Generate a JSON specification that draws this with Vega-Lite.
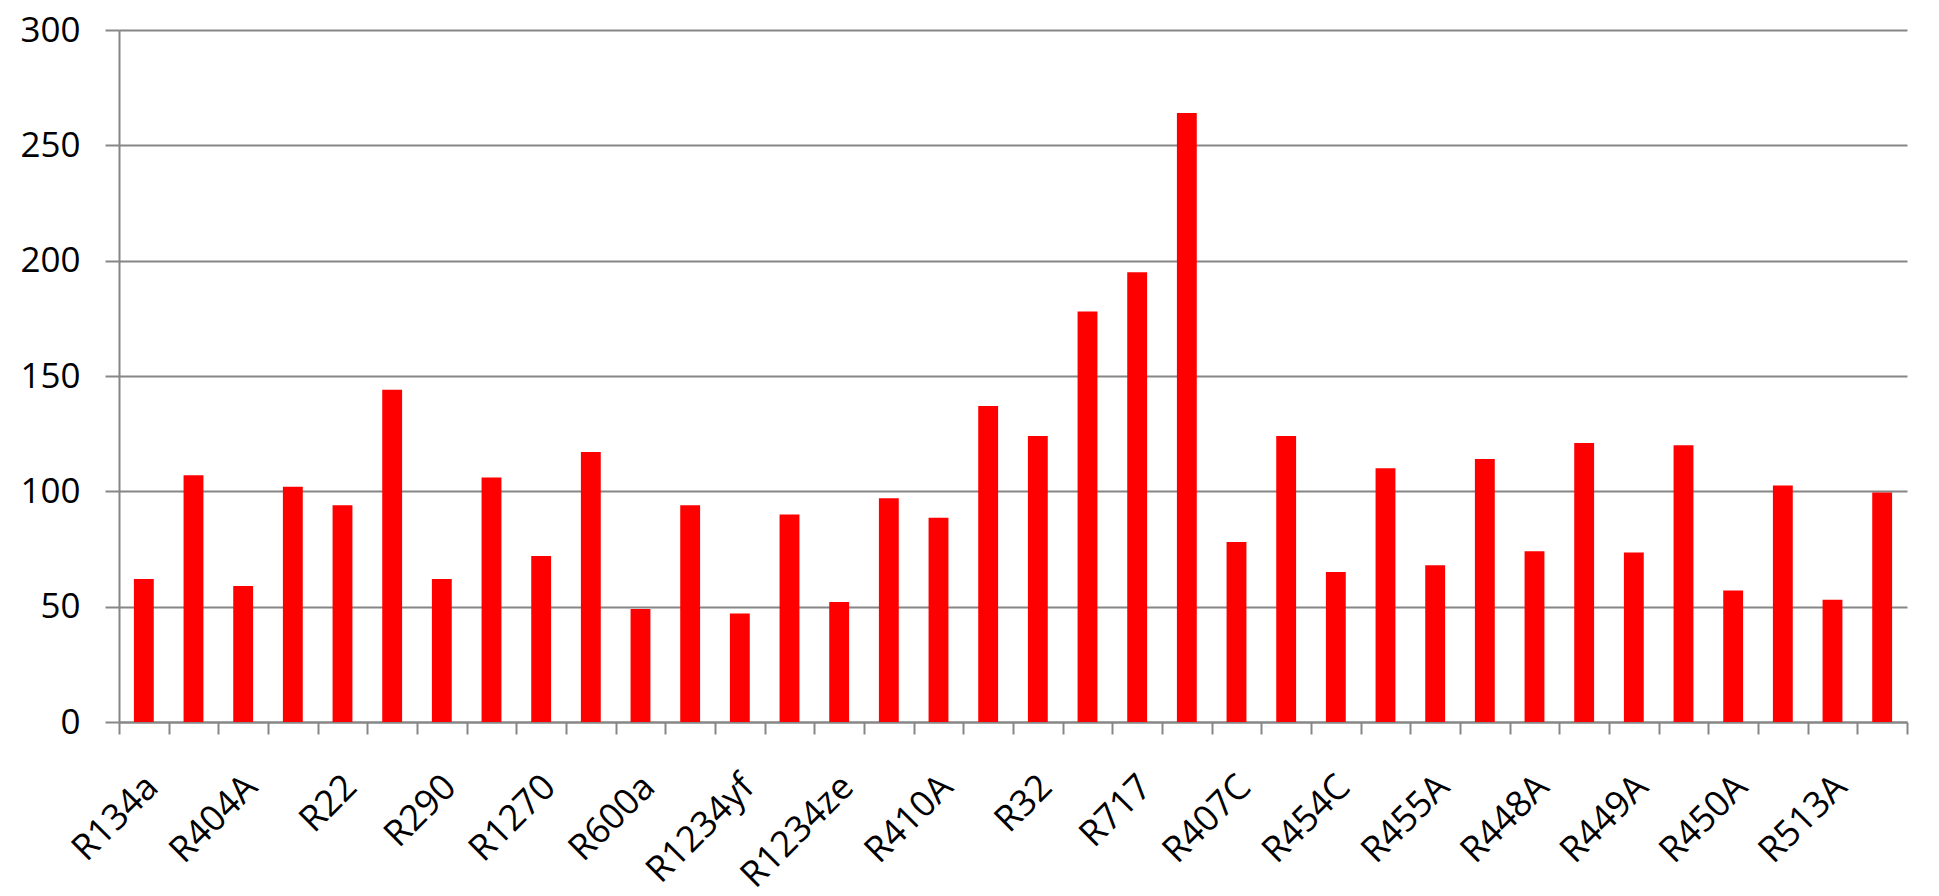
{
  "$schema": "https://vega.github.io/schema/vega-lite/v6.json",
  "width": 1788,
  "height": 692,
  "autosize": "none",
  "padding": {"left": 119, "top": 30, "right": 32, "bottom": 174},
  "background": "white",
  "config": {
    "view": {"stroke": null},
    "font": "Open Sans"
  },
  "data": {
    "values": [
      {"refrigerant": "R134a", "value": 62},
      {"refrigerant": "#2", "value": 107},
      {"refrigerant": "R404A", "value": 59},
      {"refrigerant": "#4", "value": 102},
      {"refrigerant": "R22", "value": 94},
      {"refrigerant": "#6", "value": 144},
      {"refrigerant": "R290", "value": 62},
      {"refrigerant": "#8", "value": 106},
      {"refrigerant": "R1270", "value": 72},
      {"refrigerant": "#10", "value": 117},
      {"refrigerant": "R600a", "value": 49},
      {"refrigerant": "#12", "value": 94},
      {"refrigerant": "R1234yf", "value": 47},
      {"refrigerant": "#14", "value": 90},
      {"refrigerant": "R1234ze", "value": 52},
      {"refrigerant": "#16", "value": 97},
      {"refrigerant": "R410A", "value": 88.5},
      {"refrigerant": "#18", "value": 137},
      {"refrigerant": "R32", "value": 124},
      {"refrigerant": "#20", "value": 178},
      {"refrigerant": "R717", "value": 195},
      {"refrigerant": "#22", "value": 264},
      {"refrigerant": "R407C", "value": 78},
      {"refrigerant": "#24", "value": 124},
      {"refrigerant": "R454C", "value": 65},
      {"refrigerant": "#26", "value": 110},
      {"refrigerant": "R455A", "value": 68},
      {"refrigerant": "#28", "value": 114},
      {"refrigerant": "R448A", "value": 74},
      {"refrigerant": "#30", "value": 121},
      {"refrigerant": "R449A", "value": 73.5},
      {"refrigerant": "#32", "value": 120},
      {"refrigerant": "R450A", "value": 57},
      {"refrigerant": "#34", "value": 102.5},
      {"refrigerant": "R513A", "value": 53},
      {"refrigerant": "#36", "value": 99.5}
    ]
  },
  "mark": {"type": "bar", "color": "#ff0000", "width": {"band": 0.4}},
  "encoding": {
    "x": {
      "field": "refrigerant",
      "type": "nominal",
      "sort": null,
      "title": null,
      "scale": {"paddingInner": 0, "paddingOuter": 0},
      "axis": {
        "tickBand": "extent",
        "labelExpr": "indexof(datum.label, '#') === 0 ? '' : datum.label",
        "labelAngle": -45,
        "labelAlign": "right",
        "labelBaseline": "middle",
        "labelOffset": 8,
        "labelPadding": 47,
        "labelFontSize": 36,
        "labelColor": "#000000",
        "labelOverlap": false,
        "labelBound": false,
        "labelFlush": false,
        "tickSize": 12,
        "tickWidth": 2,
        "tickColor": "#868686",
        "domainColor": "#868686",
        "domainWidth": 2,
        "grid": false
      }
    },
    "y": {
      "field": "value",
      "type": "quantitative",
      "title": null,
      "scale": {"domain": [0, 300], "nice": false},
      "axis": {
        "values": [0, 50, 100, 150, 200, 250, 300],
        "labelFontSize": 35,
        "labelColor": "#000000",
        "labelPadding": 25,
        "tickSize": 14,
        "tickWidth": 2,
        "tickColor": "#868686",
        "domainColor": "#868686",
        "domainWidth": 2,
        "grid": true,
        "gridColor": "#868686",
        "gridWidth": 2
      }
    }
  }
}
